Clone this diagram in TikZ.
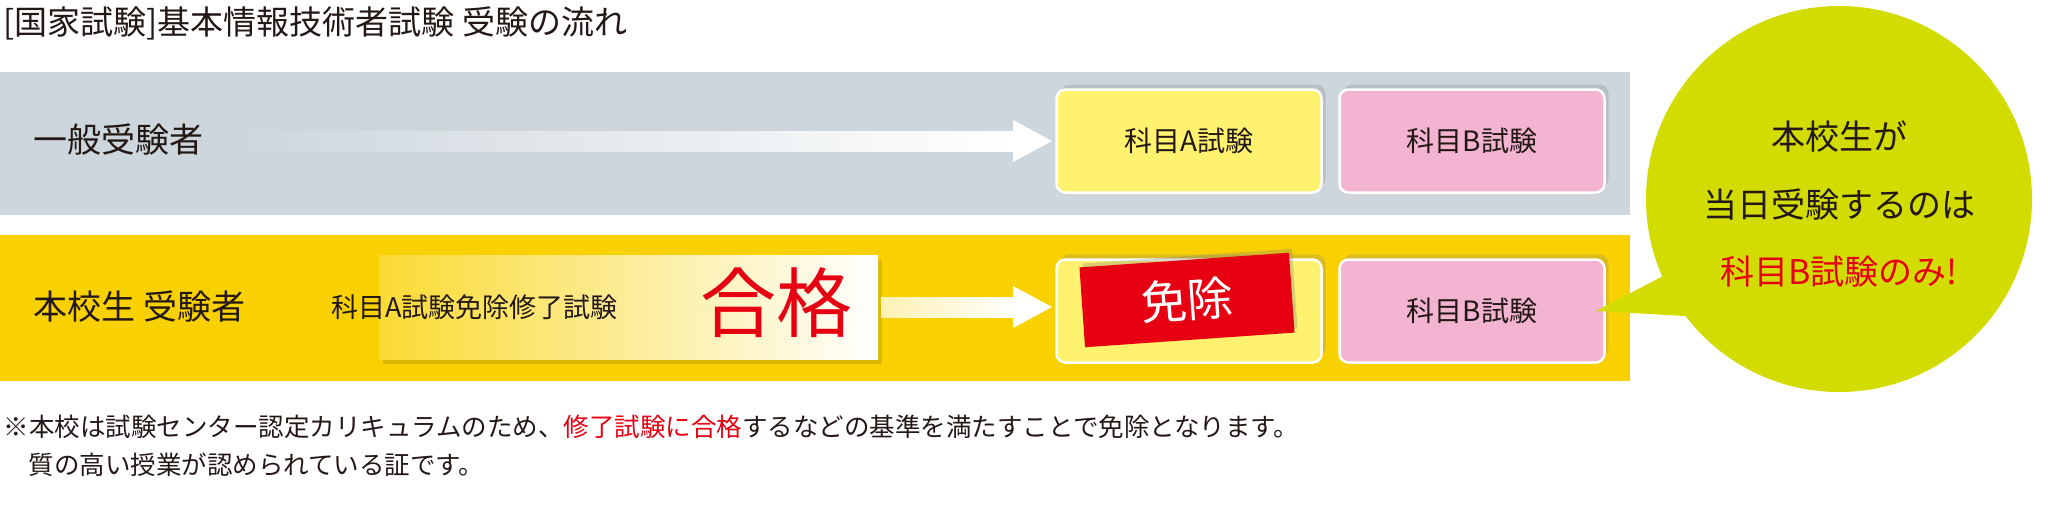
\documentclass[tikz,border=0pt]{standalone}
\usepackage{fontspec}
\setmainfont{Noto Sans CJK JP}
\usetikzlibrary{shapes.callouts,shadows}
\definecolor{bandgray}{HTML}{CDD6DC}
\definecolor{bandyel}{HTML}{F9D100}
\definecolor{boxA}{HTML}{FFF26E}
\definecolor{boxB}{HTML}{F2B4D0}
\definecolor{lime}{HTML}{D3DC00}
\definecolor{jred}{HTML}{E60012}
\definecolor{ink}{HTML}{231815}
\begin{document}
\begin{tikzpicture}[x=1pt,y=-1pt,
  band/.style={draw=none,minimum width=1630pt,anchor=north west,inner sep=0},
  exam/.style={rounded corners=9pt,draw=white,line width=2.5pt,minimum width=265pt,minimum height=103pt,font=\fontsize{28}{32}\selectfont,text=ink,drop shadow={shadow xshift=4pt,shadow yshift=5pt,opacity=0.25}},
  lbl/.style={font=\fontsize{34}{38}\selectfont,text=ink,anchor=west},
  notes/.style={font=\fontsize{25.5}{29}\selectfont,text=ink,anchor=west}]
\useasboundingbox (0,0) rectangle (2048,512);
\node[band,fill=bandgray,minimum height=143pt] (gb) at (0,72) {};
\node[band,fill=bandyel,minimum height=146pt] (yb) at (0,235) {};
\node[anchor=west,font=\fontsize{33}{37}\selectfont,text=ink] (title) at (0,23) {[国家試験]基本情報技術者試験\ 受験の流れ};
\node[lbl] (g1) at (30,140) {一般受験者};
\node[lbl] (y1) at (30,307) {本校生\ 受験者};
% gray arrow
\shade[left color=bandgray,right color=white] (235,131) rectangle (1015,151);
\fill[white] (1013,120) -- (1052,141) -- (1013,162) -- cycle;
\node[exam,fill=boxA] (a1) at (1189,141) {科目A試験};
\node[exam,fill=boxB] (b1) at (1472,141) {科目B試験};
% gradient panel
\fill[black,opacity=0.12] (383,260) rectangle (882,364);
\shade[left color=bandyel!80!white,right color=white] (379,255) rectangle (878,359);
\node[anchor=west,font=\fontsize{27}{31}\selectfont,text=ink] (pass) at (328,307) {科目A試験免除修了試験};
\node[font=\fontsize{76}{80}\selectfont,text=jred] (gokaku) at (776,303) {合格};
\shade[left color=white!70!bandyel,right color=white] (881,297) rectangle (1015,317);
\fill[white] (1013,286) -- (1052,307) -- (1013,328) -- cycle;
\node[exam,fill=boxA] (a2) at (1189,311) {};
\node[exam,fill=boxB] (b2) at (1472,311) {科目B試験};
\node[fill=jred,rotate=4,minimum width=210pt,minimum height=80pt,text=white,font=\fontsize{46}{50}\selectfont,drop shadow={shadow xshift=3pt,shadow yshift=4pt,opacity=0.3}] (men) at (1187,300) {免除};
% callout
\fill[lime] (1839,199) circle (193);
\fill[lime] (1596,311) -- (1690,262) -- (1720,318) -- cycle;
\node[text=ink,font=\fontsize{34}{38}\selectfont] (c1) at (1839,137) {本校生が};
\node[text=ink,font=\fontsize{34}{38}\selectfont] (c2) at (1839,205) {当日受験するのは};
\node[text=jred,font=\fontsize{34}{38}\selectfont] (c3) at (1839,272) {科目B試験のみ\textit{!}};
\node[notes] (n1) at (0,427) {※本校は試験センター認定カリキュラムのため、\textcolor{jred}{修了試験に合格}するなどの基準を満たすことで免除となります。};
\node[notes] (n2) at (25,465) {質の高い授業が認められている証です。};
\end{tikzpicture}
\end{document}
